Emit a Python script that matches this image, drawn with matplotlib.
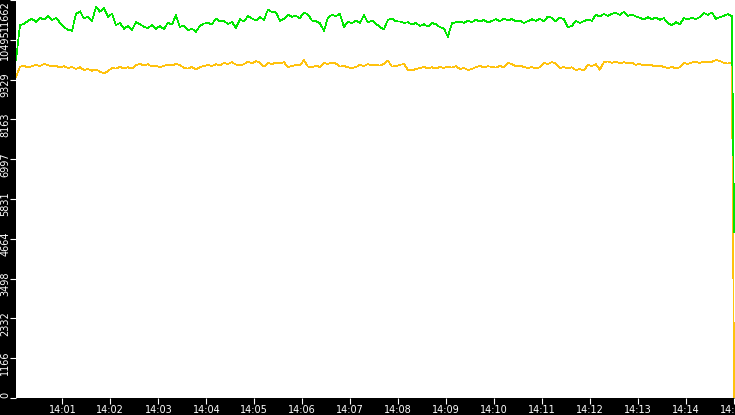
import numpy as np
import pandas as pd
import matplotlib
matplotlib.use("Agg")
import matplotlib.pyplot as plt
import matplotlib.dates as mdates
from matplotlib.transforms import ScaledTranslation

# samples every 5 s
green_vals = [
    9900, 10930, 10960, 11050, 11110, 11020, 11140, 11090, 11190, 11080,
    11130, 11000, 10860, 10790, 10760, 11250, 11330, 11120, 11180, 11040,
    11460, 11320, 11420, 11170, 11260, 10930, 10990, 10820, 10900, 10780,
    11010, 10950, 10880, 10840, 10930, 10820, 10900, 10810, 11000, 10940,
    11220, 10870, 10920, 10770, 10820, 10730, 10900, 10970, 10990, 10950,
    11120, 11040, 11050, 10960, 11020, 10840, 11100, 11030, 11190, 11120,
    11060, 11160, 11080, 11380, 11310, 11300, 11050, 11110, 11230, 11170,
    11200, 11130, 11300, 11240, 11060, 11040, 10980, 10760, 11140, 11230,
    11190, 11260, 10870, 11030, 10980, 11060, 10990, 11220, 11000, 11060,
    10970, 10870, 10800, 11080, 11120, 11040, 11030, 10990, 11010, 10940,
    10990, 10900, 10950, 10880, 10990, 10950, 10870, 10830, 10580, 10980,
    11010, 11030, 10990, 11050, 11010, 11090, 11030, 11080, 11000, 11050,
    11100, 11040, 11120, 11060, 11110, 11030, 11060, 10990, 11040, 11100,
    11050, 11110, 11040, 11180, 11140, 11030, 11150, 11100, 10860, 10900,
    11050, 10990, 11040, 11090, 11050, 11230, 11180, 11250, 11200, 11260,
    11280, 11230, 11310, 11190, 11240, 11180, 11140, 11090, 11160, 11100,
    11150, 11080, 11130, 10990, 10920, 11010, 10950, 11130, 11090, 11150,
    11100, 11160, 11280, 11230, 11300, 11110, 11160, 11200, 11250, 11190,
    4860,
]

yellow_vals = [
    9410, 9700, 9740, 9680, 9720, 9760, 9730, 9790, 9750, 9710,
    9740, 9680, 9720, 9670, 9700, 9640, 9690, 9610, 9640, 9590,
    9630, 9560, 9520, 9570, 9680, 9650, 9700, 9660, 9690, 9650,
    9760, 9790, 9740, 9780, 9710, 9740, 9690, 9730, 9770, 9740,
    9790, 9750, 9680, 9650, 9700, 9620, 9700, 9730, 9760, 9730,
    9780, 9750, 9820, 9790, 9840, 9770, 9740, 9780, 9850, 9810,
    9870, 9830, 9710, 9820, 9780, 9830, 9800, 9840, 9700, 9730,
    9760, 9740, 9900, 9710, 9690, 9740, 9700, 9820, 9790, 9830,
    9800, 9710, 9730, 9690, 9670, 9700, 9760, 9730, 9780, 9750,
    9770, 9740, 9790, 9890, 9710, 9730, 9760, 9790, 9620, 9600,
    9640, 9670, 9700, 9660, 9690, 9650, 9700, 9670, 9710, 9680,
    9720, 9640, 9670, 9610, 9640, 9700, 9730, 9690, 9720, 9700,
    9680, 9730, 9690, 9820, 9790, 9710, 9740, 9700, 9670, 9700,
    9650, 9690, 9820, 9790, 9840, 9800, 9670, 9700, 9650, 9690,
    9610, 9640, 9600, 9760, 9730, 9780, 9620, 9840, 9860, 9820,
    9850, 9810, 9840, 9800, 9830, 9760, 9790, 9740, 9770, 9750,
    9710, 9740, 9700, 9670, 9700, 9660, 9690, 9820, 9790, 9830,
    9850, 9820, 9860, 9830, 9850, 9900, 9880, 9820, 9800, 9830,
    0,
]

ytick_vals = [0, 1166.2, 2332.4, 3498.6, 4664.8, 5831, 6997.2, 8163.4, 9329.6, 10495.8, 11662]
ytick_labels = ["0", "1166", "2332", "3498", "4664", "5831", "6997", "8163", "9329", "10495", "11662"]

t0 = pd.Timestamp("2024-01-01 14:00:02")
times = list(pd.date_range(t0, periods=len(green_vals) - 1, freq="5s"))
times.append(pd.Timestamp("2024-01-01 14:15:00"))

fig = plt.figure(figsize=(7.35, 4.15), dpi=100, facecolor="black")
ax = fig.add_axes([16 / 735, 17 / 415, 719 / 735, 398 / 415])
ax.set_facecolor("white")

ax.plot(times, yellow_vals, color="#ffc20e", lw=0.5, antialiased=False)
ax.plot(times, green_vals, color="#00e600", lw=0.5, antialiased=False)

ax.set_xlim(t0, pd.Timestamp("2024-01-01 14:15:01"))
ax.set_ylim(0, 11662)

for s in ax.spines.values():
    s.set_visible(False)

ax.xaxis.set_major_locator(mdates.MinuteLocator())
ax.xaxis.set_major_formatter(mdates.DateFormatter("%H:%M"))
ax.tick_params(axis="x", colors="white", labelsize=7, length=4, width=0.8, pad=1)

ax.set_yticks(ytick_vals)
ax.set_yticklabels(ytick_labels, rotation=90)
ax.tick_params(axis="y", colors="white", labelsize=7, length=4, width=0.8, pad=0)

lbls = ax.get_yticklabels()
for i, lb in enumerate(lbls):
    if i == 0:
        lb.set_va("bottom")
    elif i == len(lbls) - 1:
        lb.set_va("top")
    else:
        lb.set_va("center")
        lb.set_transform(lb.get_transform() + ScaledTranslation(0, -0.05, fig.dpi_scale_trans))

fig.savefig("out.png", dpi=100, facecolor="black")
